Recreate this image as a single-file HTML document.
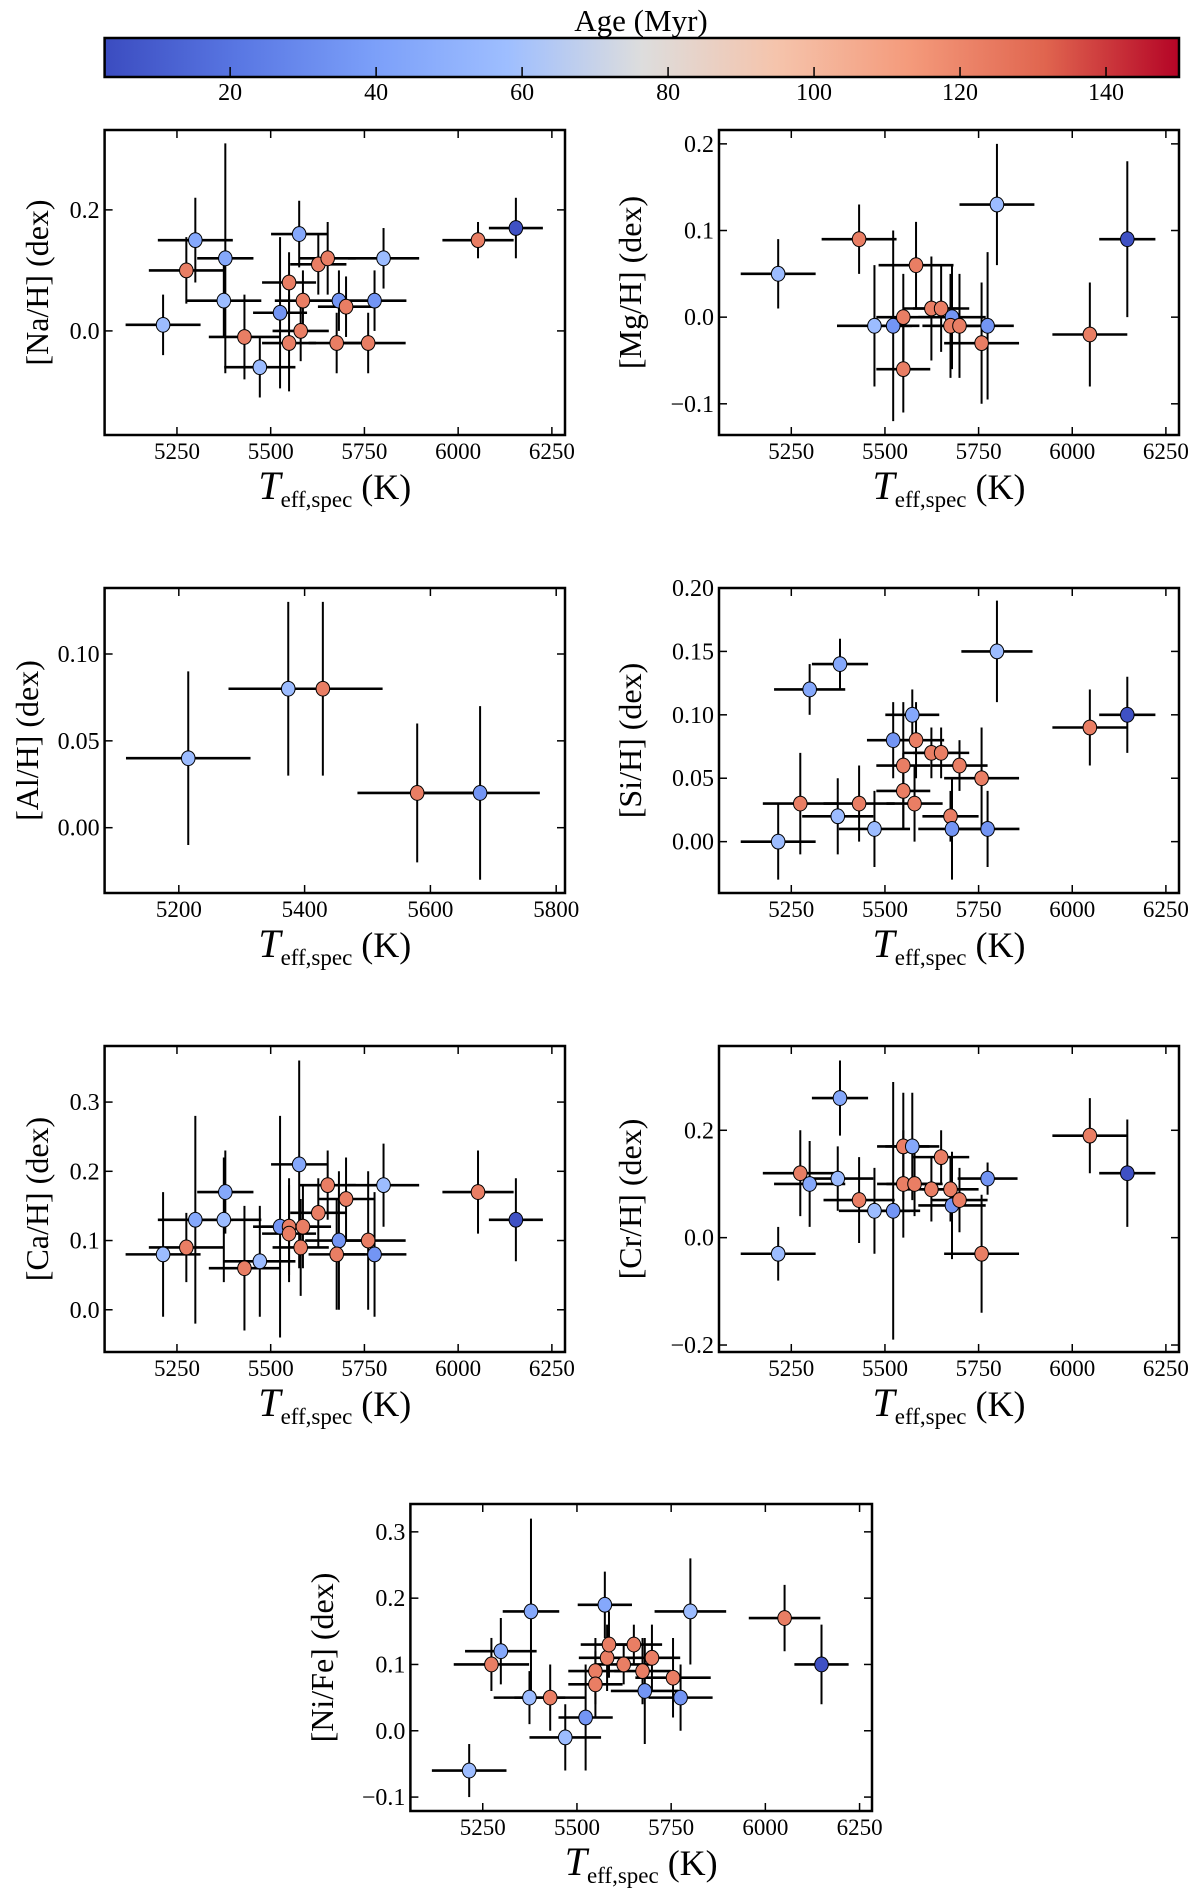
<!DOCTYPE html>
<html><head><meta charset="utf-8"><style>
html,body{margin:0;padding:0;background:#fff;}
svg{display:block;font-family:"Liberation Serif",serif;}
</style></head><body>
<svg id="fig" width="1200" height="1888" viewBox="0 0 1200 1888" xmlns="http://www.w3.org/2000/svg">
<defs>
<linearGradient id="cw" x1="0" x2="1" y1="0" y2="0">
<stop offset="0" stop-color="#3b4cc0"/><stop offset="0.125" stop-color="#5977e3"/>
<stop offset="0.25" stop-color="#7b9ff9"/><stop offset="0.375" stop-color="#9ebeff"/>
<stop offset="0.5" stop-color="#dddddd"/><stop offset="0.625" stop-color="#f5c4ac"/>
<stop offset="0.75" stop-color="#f49a7b"/><stop offset="0.875" stop-color="#e0654f"/>
<stop offset="1" stop-color="#b40426"/></linearGradient>
</defs>
<g id="cbar"></g>
<g id="panels"></g>
</svg>
<script>
const L=57,M=35,ML=45,R=123,D=5;
const cbTicks=[20,40,60,80,100,120,140];
const ageMin=2.8, ageMax=150;

const naT=[5213,5299,5275,5379,5375,5430,5471,5525,5549,5549,5576,5580,5586,5627,5652,5682,5676,5701,5760,5777,5801,6053,6154];
const naV=[0.01,0.15,0.10,0.12,0.05,-0.01,-0.06,0.03,0.08,-0.02,0.16,0.00,0.05,0.11,0.12,0.05,-0.02,0.04,-0.02,0.05,0.12,0.15,0.17];
const naXe=[100,100,100,75,100,95,95,72,72,72,75,75,75,75,75,90,75,75,100,85,95,95,72];
const naYe=[0.05,0.07,0.055,0.19,0.06,0.07,0.05,0.125,0.05,0.08,0.055,0.05,0.05,0.05,0.06,0.05,0.05,0.05,0.05,0.05,0.05,0.03,0.05];
const naAge=[L,ML,R,ML,L,R,L,M,R,R,ML,R,R,R,R,M,R,R,R,M,L,R,D];

const mgT=[5215,5431,5472,5522,5549,5549,5583,5624,5650,5679,5675,5699,5758,5774,5799,6047,6147];
const mgV=[0.05,0.09,-0.01,-0.01,0.00,-0.06,0.06,0.01,0.01,0.00,-0.01,-0.01,-0.03,-0.01,0.13,-0.02,0.09];
const mgXe=[100,100,100,70,72,72,100,75,75,90,75,75,100,70,100,100,75];
const mgYe=[0.04,0.04,0.07,0.11,0.05,0.05,0.05,0.06,0.05,0.06,0.06,0.06,0.07,0.085,0.07,0.06,0.09];
const mgAge=[L,R,L,M,R,R,R,R,R,M,R,R,R,M,L,R,D];

const alT=[5215,5374,5429,5579,5679];
const alV=[0.04,0.08,0.08,0.02,0.02];
const alXe=[99,95,95,95,95];
const alYe=[0.05,0.05,0.05,0.04,0.05];
const alAge=[L,L,R,R,M];

const siT=[5215,5274,5299,5380,5374,5431,5472,5522,5549,5549,5573,5583,5579,5624,5650,5699,5675,5679,5758,5774,5799,6047,6147];
const siV=[0.00,0.03,0.12,0.14,0.02,0.03,0.01,0.08,0.06,0.04,0.10,0.08,0.03,0.07,0.07,0.06,0.02,0.01,0.05,0.01,0.15,0.09,0.10];
const siXe=[100,100,95,75,95,95,95,70,72,72,72,75,75,75,75,75,75,90,100,85,95,100,75];
const siYe=[0.03,0.04,0.02,0.02,0.03,0.03,0.03,0.03,0.05,0.03,0.02,0.03,0.03,0.02,0.02,0.02,0.02,0.04,0.04,0.03,0.04,0.03,0.03];
const siAge=[L,R,ML,ML,L,R,L,M,R,R,ML,R,R,R,R,R,R,M,R,M,L,R,D];

const caT=[5213,5275,5299,5379,5375,5430,5471,5525,5549,5549,5576,5580,5586,5627,5652,5682,5676,5701,5760,5777,5801,6053,6154];
const caV=[0.08,0.09,0.13,0.17,0.13,0.06,0.07,0.12,0.12,0.11,0.21,0.09,0.12,0.14,0.18,0.10,0.08,0.16,0.10,0.08,0.18,0.17,0.13];
const caXe=[100,100,100,75,100,95,95,72,72,72,75,75,75,75,75,90,75,75,100,85,95,95,72];
const caYe=[0.09,0.05,0.15,0.06,0.09,0.09,0.08,0.16,0.07,0.07,0.15,0.07,0.06,0.05,0.05,0.1,0.08,0.06,0.1,0.09,0.06,0.06,0.06];
const caAge=[L,R,ML,ML,L,R,L,M,R,R,ML,R,R,R,R,M,R,R,R,M,L,R,D];

const crT=[5215,5274,5299,5380,5374,5431,5472,5522,5549,5549,5573,5579,5624,5650,5675,5679,5699,5758,5774,6047,6147];
const crV=[-0.03,0.12,0.10,0.26,0.11,0.07,0.05,0.05,0.17,0.10,0.17,0.10,0.09,0.15,0.09,0.06,0.07,-0.03,0.11,0.19,0.12];
const crXe=[100,100,95,75,95,95,95,72,70,70,72,75,75,75,75,90,75,100,80,100,75];
const crYe=[0.05,0.08,0.08,0.07,0.06,0.08,0.08,0.24,0.1,0.1,0.1,0.06,0.06,0.05,0.06,0.1,0.06,0.11,0.03,0.07,0.1];
const crAge=[L,R,ML,ML,L,R,L,M,R,R,ML,R,R,R,R,M,R,R,M,R,D];

const niT=[5214,5273,5298,5378,5374,5429,5469,5523,5549,5549,5574,5580,5585,5624,5651,5674,5680,5699,5755,5775,5801,6051,6149];
const niV=[-0.06,0.10,0.12,0.18,0.05,0.05,-0.01,0.02,0.09,0.07,0.19,0.11,0.13,0.10,0.13,0.09,0.06,0.11,0.08,0.05,0.18,0.17,0.10];
const niXe=[99,100,95,75,95,95,95,72,72,72,72,75,75,75,75,75,90,75,100,85,95,95,72];
const niYe=[0.04,0.04,0.05,0.14,0.04,0.05,0.05,0.08,0.05,0.05,0.05,0.05,0.05,0.03,0.03,0.05,0.08,0.05,0.06,0.05,0.08,0.05,0.06];
const niAge=[L,R,ML,ML,L,R,L,M,R,R,ML,R,R,R,R,R,M,R,R,M,L,R,D];

const NS="http://www.w3.org/2000/svg";
function el(tag,attrs,parent){const e=document.createElementNS(NS,tag);for(const k in attrs)e.setAttribute(k,attrs[k]);if(parent)parent.appendChild(e);return e;}
const stops=[[0,[59,76,192]],[0.125,[89,119,227]],[0.25,[123,159,249]],[0.375,[158,190,255]],[0.5,[221,221,221]],[0.625,[245,196,172]],[0.75,[244,154,123]],[0.875,[224,101,79]],[1,[180,4,38]]];
function cmap(a){let t=(a-ageMin)/(ageMax-ageMin);t=Math.max(0,Math.min(1,t));
 for(let i=1;i<stops.length;i++){if(t<=stops[i][0]){const [t0,c0]=stops[i-1],[t1,c1]=stops[i];const f=(t-t0)/(t1-t0);
 return 'rgb('+c0.map((v,j)=>Math.round(v+(c1[j]-v)*f)).join(',')+')';}}return 'rgb(180,4,38)';}

const cb=document.getElementById('cbar');
const cbx0=104.6,cbx1=1179,cby0=38,cby1=77;
const cbRect=el('rect',{x:cbx0,y:cby0,width:cbx1-cbx0,height:cby1-cby0,fill:'url(#cw)',stroke:'#000','stroke-width':2.5},cb);


const cbTitle=el('text',{x:641,y:31,'font-size':31,'text-anchor':'middle'},cb);cbTitle.textContent='Age (Myr)';


cbTicks.forEach(v=>{const x=cbx0+(v-ageMin)/(ageMax-ageMin)*(cbx1-cbx0);
 el('line',{x1:x,x2:x,y1:cby1,y2:cby1-10,stroke:'#000','stroke-width':1.5},cb);
 const t=el('text',{x:x,y:100,'font-size':24,'text-anchor':'middle'},cb);t.textContent=v;
 
 });

function fmt(v,d){const s=Math.abs(v).toFixed(d);return (v<-1e-9?'\u2212':'')+s;}
function panel(cfg){
 const g=el('g',{},document.getElementById('panels'));
 
 
 const [x0,y0,x1,y1]=cfg.box;
 const sx=v=>x0+(v-cfg.xlim[0])/(cfg.xlim[1]-cfg.xlim[0])*(x1-x0);
 const sy=v=>y1-(v-cfg.ylim[0])/(cfg.ylim[1]-cfg.ylim[0])*(y1-y0);
 el('rect',{x:x0,y:y0,width:x1-x0,height:y1-y0,fill:'#fff'},g);
 cfg.xticks.forEach(v=>{const x=sx(v);
  el('line',{x1:x,x2:x,y1:y1,y2:y1-8,stroke:'#000','stroke-width':1.5},g);
  el('line',{x1:x,x2:x,y1:y0,y2:y0+8,stroke:'#000','stroke-width':1.5},g);
  const t=el('text',{x:x,y:y1+24,'font-size':23,'text-anchor':'middle'},g);t.textContent=v;
  
  });
 cfg.yticks.forEach(v=>{const y=sy(v);
  el('line',{x1:x0,x2:x0+8,y1:y,y2:y,stroke:'#000','stroke-width':1.5},g);
  el('line',{x1:x1,x2:x1-8,y1:y,y2:y,stroke:'#000','stroke-width':1.5},g);
  const t=el('text',{x:x0-5,y:y+8,'font-size':24,'text-anchor':'end'},g);t.textContent=fmt(v,cfg.yd);
  
  });
 const d=cfg.data;
 for(let i=0;i<d.T.length;i++){
  const cx=sx(d.T[i]),cy=sy(d.V[i]);
  el('line',{x1:sx(d.T[i]-d.Xe[i]),x2:sx(d.T[i]+d.Xe[i]),y1:cy,y2:cy,stroke:'#000','stroke-width':2.6},g);
  el('line',{x1:cx,x2:cx,y1:sy(d.V[i]-d.Ye[i]),y2:sy(d.V[i]+d.Ye[i]),stroke:'#000','stroke-width':2},g);
 }
 for(let i=0;i<d.T.length;i++){
  const p=el('ellipse',{cx:sx(d.T[i]),cy:sy(d.V[i]),rx:6.8,ry:7.4,fill:cmap(d.A[i]),stroke:'#000','stroke-width':1},g);
  
  
 }
 el('rect',{x:x0,y:y0,width:x1-x0,height:y1-y0,fill:'none',stroke:'#000','stroke-width':2.5},g);
 const xl=el('text',{x:(x0+x1)/2,y:y1+64,'text-anchor':'middle','font-size':36},g);
 
 
 xl.innerHTML='<tspan font-style="italic" font-size="40">T</tspan><tspan font-size="23" dy="8">eff,spec</tspan><tspan dy="-8" font-size="36"> (K)</tspan>';
 const yl=el('text',{x:0,y:0,'text-anchor':'middle','font-size':32,transform:'translate('+cfg.ylx+','+((y0+y1)/2)+') rotate(-90)'},g);
 yl.textContent=cfg.ylabel;
 
 
}
const X1=[5250,5500,5750,6000,6250], XL=[5057,6285];
panel({name:'na-panel',box:[104.6,130,565,435],xlim:XL,ylim:[-0.172,0.332],xticks:X1,yticks:[0,0.2],yd:1,ylabel:'[Na/H] (dex)',ylx:48,data:{T:naT,V:naV,Xe:naXe,Ye:naYe,A:naAge}});
panel({name:'mg-panel',box:[719,130,1179,435],xlim:XL,ylim:[-0.136,0.216],xticks:X1,yticks:[-0.1,0,0.1,0.2],yd:1,ylabel:'[Mg/H] (dex)',ylx:641,data:{T:mgT,V:mgV,Xe:mgXe,Ye:mgYe,A:mgAge}});
panel({name:'al-panel',box:[104.6,588,565,893],xlim:[5082,5814],ylim:[-0.0376,0.138],xticks:[5200,5400,5600,5800],yticks:[0,0.05,0.1],yd:2,ylabel:'[Al/H] (dex)',ylx:38,data:{T:alT,V:alV,Xe:alXe,Ye:alYe,A:alAge}});
panel({name:'si-panel',box:[719,588,1179,893],xlim:XL,ylim:[-0.0405,0.2],xticks:X1,yticks:[0,0.05,0.1,0.15,0.2],yd:2,ylabel:'[Si/H] (dex)',ylx:641,data:{T:siT,V:siV,Xe:siXe,Ye:siYe,A:siAge}});
panel({name:'ca-panel',box:[104.6,1046,565,1352],xlim:XL,ylim:[-0.061,0.381],xticks:X1,yticks:[0,0.1,0.2,0.3],yd:1,ylabel:'[Ca/H] (dex)',ylx:48,data:{T:caT,V:caV,Xe:caXe,Ye:caYe,A:caAge}});
panel({name:'cr-panel',box:[719,1046,1179,1352],xlim:XL,ylim:[-0.213,0.357],xticks:X1,yticks:[-0.2,0,0.2],yd:1,ylabel:'[Cr/H] (dex)',ylx:641,data:{T:crT,V:crV,Xe:crXe,Ye:crYe,A:crAge}});
panel({name:'ni-panel',box:[410.4,1504,872,1811],xlim:[5058,6283],ylim:[-0.121,0.342],xticks:X1,yticks:[-0.1,0,0.1,0.2,0.3],yd:1,ylabel:'[Ni/Fe] (dex)',ylx:333,data:{T:niT,V:niV,Xe:niXe,Ye:niYe,A:niAge}});
</script>
</body></html>
